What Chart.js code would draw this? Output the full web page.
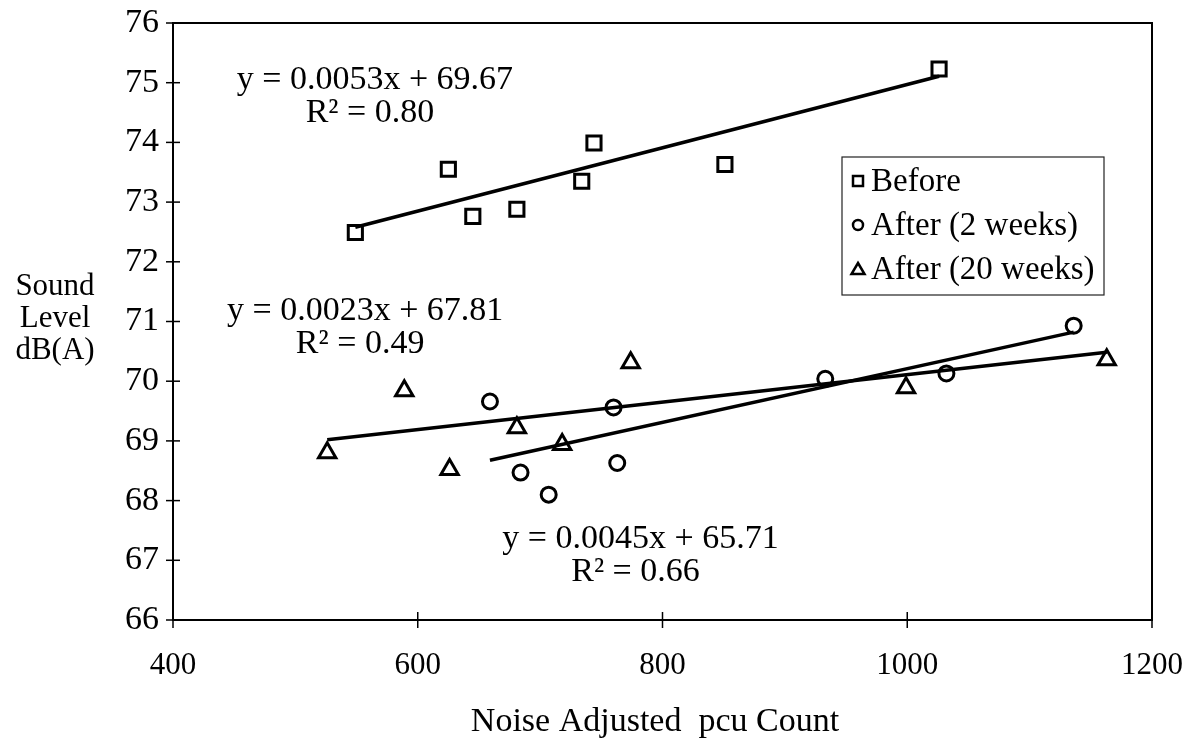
<!DOCTYPE html>
<html>
<head>
<meta charset="utf-8">
<script src="https://cdn.jsdelivr.net/npm/chart.js@4.4.0/dist/chart.umd.min.js"></script>
<style>
  html, body { margin: 0; padding: 0; background: #fff; }
  #wrap { position: relative; width: 1195px; height: 744px; }
</style>
</head>
<body>
<div id="wrap"><canvas id="chart"></canvas></div>
<script>
// values
var beforeX = [549, 625, 645, 681, 734, 744, 851, 1026];
var beforeY = [72.49, 73.55, 72.76, 72.88, 73.35, 73.99, 73.63, 75.23];
var week2X = [659, 684, 707, 760, 763, 933, 1032, 1136];
var week2Y = [69.66, 68.47, 68.10, 69.56, 68.63, 70.04, 70.13, 70.93];
var week20X = [526, 589, 626, 681, 718, 774, 999, 1163];
var week20Y = [68.80, 69.84, 68.52, 69.22, 68.94, 70.31, 69.89, 70.36];

var seriesNames = ['Before', 'After (2 weeks)', 'After (20 weeks)'];
var pointStyles = ['rect', 'circle', 'triangle'];

// fitted lines as printed on the chart
var slopes = [0.0053, 0.0045, 0.0023];
var intercepts = [69.67, 65.71, 67.81];
var r2Labels = ['0.80', '0.66', '0.49'];

var xTicks = [400, 600, 800, 1000, 1200];
var yTicks = [66, 67, 68, 69, 70, 71, 72, 73, 74, 75, 76];

var serif = '"Liberation Serif", "DejaVu Serif", serif';

function pts(xs, ys) {
  return xs.map(function(x, i) { return { x: x, y: ys[i] }; });
}
function trend(xs, k) {
  var lo = Math.min.apply(null, xs), hi = Math.max.apply(null, xs);
  return [{ x: lo, y: slopes[k] * lo + intercepts[k] }, { x: hi, y: slopes[k] * hi + intercepts[k] }];
}

var allX = [beforeX, week2X, week20X];
var allY = [beforeY, week2Y, week20Y];
var radii = [10, 7.5, 10];

var datasets = [];
for (var i = 0; i < 3; i++) {
  datasets.push({
    label: seriesNames[i],
    data: pts(allX[i], allY[i]),
    pointStyle: pointStyles[i],
    pointRadius: radii[i],
    pointBorderWidth: 3,
    pointBorderColor: '#000',
    pointBackgroundColor: 'rgba(0,0,0,0)',
    showLine: false
  });
}
for (var j = 0; j < 3; j++) {
  datasets.push({
    label: 'trend' + j,
    data: trend(allX[j], j),
    showLine: true,
    borderColor: '#000',
    borderWidth: 3.5,
    pointRadius: 0,
    fill: false
  });
}

// equation text anchors (data units) : [x, y] of the first line centre
var eqAnchors = [[565, 75.04], [782, 67.36], [557, 71.18]];

var decor = {
  id: 'decor',
  afterDraw: function(chart) {
    var ctx = chart.ctx, a = chart.chartArea;
    var xs = chart.scales.x, ys = chart.scales.y;
    ctx.save();
    ctx.strokeStyle = '#000';
    ctx.lineWidth = 2;
    ctx.strokeRect(a.left, a.top, a.right - a.left, a.bottom - a.top);
    ctx.lineWidth = 1.5;
    yTicks.forEach(function(v) {
      var py = ys.getPixelForValue(v);
      ctx.beginPath(); ctx.moveTo(a.left - 7, py); ctx.lineTo(a.left + 7, py); ctx.stroke();
    });
    xTicks.forEach(function(v) {
      var px = xs.getPixelForValue(v);
      ctx.beginPath(); ctx.moveTo(px, a.bottom - 8); ctx.lineTo(px, a.bottom + 8); ctx.stroke();
    });

    // equations
    ctx.fillStyle = '#000';
    ctx.font = '34px ' + serif;
    ctx.textAlign = 'center';
    ctx.textBaseline = 'middle';
    for (var k = 0; k < 3; k++) {
      var cx = xs.getPixelForValue(eqAnchors[k][0]);
      var cy = ys.getPixelForValue(eqAnchors[k][1]);
      ctx.fillText('y = ' + slopes[k].toFixed(4) + 'x + ' + intercepts[k].toFixed(2), cx, cy);
      ctx.fillText('R\u00b2 = ' + r2Labels[k], cx - 5, cy + 33);
    }

    // axis titles
    ctx.font = '31px ' + serif;
    ['Sound', 'Level', 'dB(A)'].forEach(function(t, n) {
      ctx.fillText(t, 55, 287 + n * 32);
    });
    ctx.font = '34px ' + serif;
    ctx.fillText('Noise Adjusted  pcu Count', 655, 722);

    // legend box
    var lx = 842, ly = 157, lw = 262, lh = 138;
    ctx.lineWidth = 1.2;
    ctx.strokeStyle = '#222';
    ctx.strokeRect(lx, ly, lw, lh);
    ctx.textAlign = 'left';
    ctx.font = '33px ' + serif;
    for (var r = 0; r < 3; r++) {
      var ry = ly + 24 + r * 44;
      var sx = lx + 16;
      ctx.lineWidth = 2.5;
      ctx.strokeStyle = '#000';
      ctx.beginPath();
      if (pointStyles[r] === 'rect') {
        ctx.rect(sx - 5, ry - 5, 10, 10);
      } else if (pointStyles[r] === 'circle') {
        ctx.arc(sx, ry, 5, 0, Math.PI * 2);
      } else {
        ctx.moveTo(sx, ry - 6); ctx.lineTo(sx + 6.5, ry + 5); ctx.lineTo(sx - 6.5, ry + 5); ctx.closePath();
      }
      ctx.stroke();
      ctx.fillText(seriesNames[r], lx + 29, ry + 1);
    }
    ctx.restore();
  }
};

new Chart(document.getElementById('chart'), {
  type: 'scatter',
  data: { datasets: datasets },
  options: {
    responsive: true,
    maintainAspectRatio: false,
    animation: false,
    layout: { padding: { top: 23, right: 43, left: 0, bottom: 0 } },
    plugins: { legend: { display: false }, tooltip: { enabled: false } },
    scales: {
      x: {
        type: 'linear', min: 400, max: 1200,
        afterBuildTicks: function(s) { s.ticks = xTicks.map(function(v) { return { value: v }; }); },
        afterFit: function(s) { s.height = 124; s.paddingLeft = 0; s.paddingRight = 0; },
        ticks: {
          color: '#000', font: { family: serif, size: 31 }, padding: 27, maxRotation: 0,
          callback: function(v) { return String(v); }
        },
        grid: { display: false, drawTicks: false },
        border: { display: false }
      },
      y: {
        min: 66, max: 76,
        afterBuildTicks: function(s) { s.ticks = yTicks.map(function(v) { return { value: v }; }); },
        afterFit: function(s) { s.width = 173; s.paddingTop = 0; s.paddingBottom = 0; },
        ticks: { color: '#000', font: { family: serif, size: 34 }, padding: 14 },
        grid: { display: false, drawTicks: false },
        border: { display: false }
      }
    }
  },
  plugins: [decor]
});
</script>
</body>
</html>
